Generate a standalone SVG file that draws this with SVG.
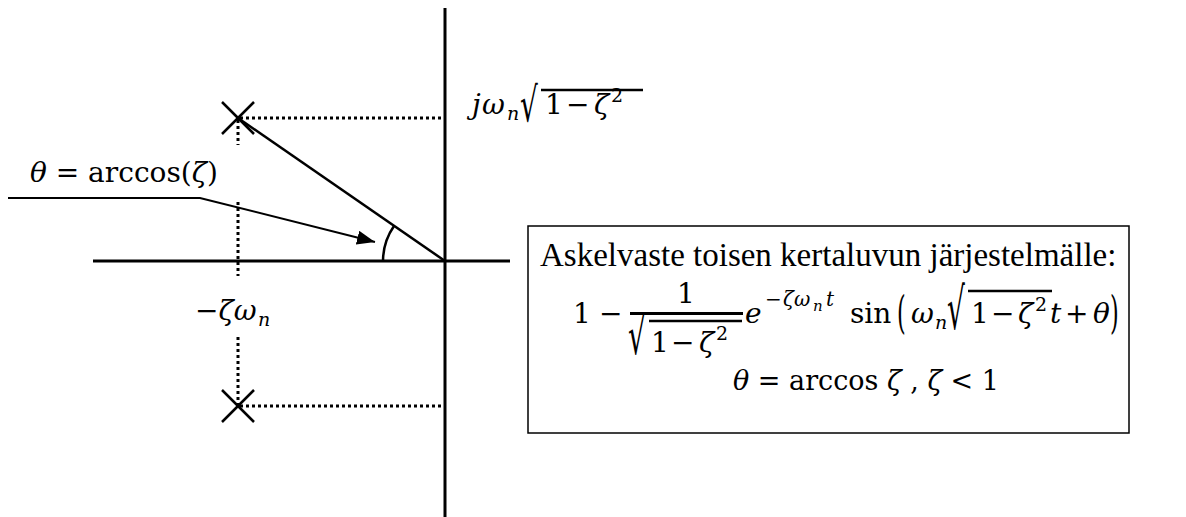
<svg xmlns="http://www.w3.org/2000/svg" width="1186" height="517" viewBox="0 0 1186 517">
<defs>
<style>
.ax{stroke:#000;stroke-width:3;fill:none}
.ln{stroke:#000;stroke-width:2.5;fill:none}
.dot{stroke:#000;stroke-width:3;stroke-dasharray:3 3;fill:none}
.bar{stroke:#000;stroke-width:2.5}
.m{font-family:"DejaVu Serif",serif;font-size:28px;fill:#000}
.i{font-style:italic}
.s{font-size:19px}
.e{font-size:20px}
.ss{font-size:15px}
.t{font-family:"Liberation Serif",serif;font-size:33px;fill:#000}
</style>
<marker id="arr" markerUnits="userSpaceOnUse" markerWidth="20" markerHeight="14" refX="18" refY="7" orient="auto">
<path d="M0,0 L18,7 L0,14 z" fill="#000"/>
</marker>
</defs>
<rect width="1186" height="517" fill="#fff"/>
<g id="axes">
<line class="ax" x1="445" y1="8" x2="445" y2="517"/>
<line class="ax" x1="93" y1="261" x2="510" y2="261"/>
</g>
<g id="pole-upper">
<line class="ln" x1="222" y1="102" x2="254" y2="134"/>
<line class="ln" x1="254" y1="102" x2="222" y2="134"/>
</g>
<g id="pole-lower">
<line class="ln" x1="222" y1="390" x2="254" y2="422"/>
<line class="ln" x1="254" y1="390" x2="222" y2="422"/>
</g>
<g id="connectors">
<line class="ln" x1="238" y1="118" x2="445" y2="261"/>
<line class="dot" x1="240" y1="118" x2="445" y2="118"/>
<line class="dot" x1="238" y1="120" x2="238" y2="145"/>
<line class="dot" x1="238" y1="202" x2="238" y2="276"/>
<line class="dot" x1="238" y1="337" x2="238" y2="404"/>
<line class="dot" x1="240" y1="406" x2="445" y2="406"/>
<path class="ln" d="M383,261 A62,62 0 0 1 394,226"/>
<polyline fill="none" stroke="#000" stroke-width="2" points="8,198 200,198 375,242" marker-end="url(#arr)"/>
</g>
<g id="label-jw">
<text class="m i" x="472" y="114">j</text>
<text class="m i" x="482" y="114">ω</text>
<text class="m i s" x="507" y="120">n</text>
<text class="m" transform="translate(520,121) scale(1,1.7)">√</text>
<line class="bar" x1="541" y1="90" x2="643" y2="90"/>
<text class="m" x="545" y="114">1</text>
<text class="m" x="566" y="114">−</text>
<text class="m i" x="594" y="114">ζ</text>
<text class="m s" x="611" y="102">2</text>
</g>
<g id="label-theta">
<text class="m" x="30" y="182"><tspan class="i">θ</tspan> = arccos(<tspan class="i">ζ</tspan>)</text>
</g>
<g id="label-zeta">
<text class="m" x="195" y="320">−<tspan class="i">ζω</tspan></text>
<text class="m i s" x="258" y="326">n</text>
</g>
<g id="formula-box">
<rect x="528" y="226" width="601" height="207" fill="none" stroke="#000" stroke-width="1.5"/>
<text class="t" x="540" y="266">Askelvaste toisen kertaluvun järjestelmälle:</text>
<text class="m" x="573" y="323">1</text>
<text class="m" x="599" y="323">−</text>
<text class="m" x="677" y="303">1</text>
<line stroke="#000" stroke-width="3" x1="630" y1="313.5" x2="743" y2="313.5"/>
<text class="m" transform="translate(628,354) scale(1,1.85)">√</text>
<line class="bar" x1="649" y1="321" x2="742" y2="321"/>
<text class="m" x="651" y="352">1</text>
<text class="m" x="671" y="352">−</text>
<text class="m i" x="699" y="352">ζ</text>
<text class="m s" x="716" y="340">2</text>
<text class="m i" x="745" y="323">e</text>
<text class="m e" x="765" y="306">−</text>
<text class="m i e" x="783" y="306">ζ</text>
<text class="m i e" x="794" y="306">ω</text>
<text class="m i ss" x="813" y="311">n</text>
<text class="m i e" x="826" y="306">t</text>
<text class="m" x="850" y="323">sin</text>
<text class="m" transform="translate(897,328) scale(0.8,1.6)">(</text>
<text class="m i" x="911" y="323">ω</text>
<text class="m i s" x="935" y="329">n</text>
<text class="m" transform="translate(947,329) scale(1,2.05)">√</text>
<line class="bar" x1="968" y1="291" x2="1052" y2="291"/>
<text class="m" x="971" y="323">1</text>
<text class="m" x="991" y="323">−</text>
<text class="m i" x="1018" y="323">ζ</text>
<text class="m s" x="1035" y="311">2</text>
<text class="m i" x="1050" y="323">t</text>
<text class="m" x="1065" y="323">+</text>
<text class="m i" x="1093" y="323">θ</text>
<text class="m" transform="translate(1110,328) scale(0.8,1.6)">)</text>
<text class="m" x="733" y="390" style="font-size:27px"><tspan class="i">θ</tspan> = arccos <tspan class="i">ζ</tspan> , <tspan class="i">ζ</tspan> &lt; 1</text>
</g>
</svg>
